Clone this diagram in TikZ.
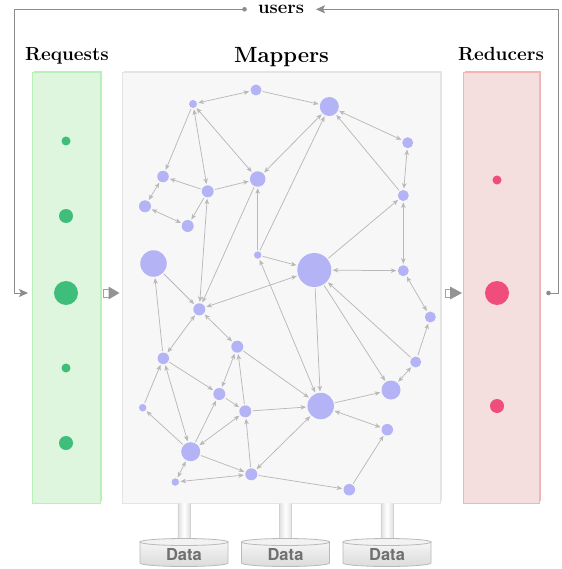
\documentclass[tikz,border=0pt]{standalone}
\usepackage{fontspec}
\newfontfamily\helv{TeX Gyre Heros}
\usetikzlibrary{arrows.meta}
\definecolor{mnode}{RGB}{179,179,245}
\definecolor{edgec}{RGB}{185,185,185}
\definecolor{reqfill}{RGB}{222,245,222}
\definecolor{reqline}{RGB}{184,240,184}
\definecolor{redfill}{RGB}{244,222,222}
\definecolor{redline}{RGB}{245,180,180}
\definecolor{mapfill}{RGB}{247,247,247}
\definecolor{mapline}{RGB}{228,228,228}
\definecolor{greendot}{RGB}{62,190,122}
\definecolor{reddot}{RGB}{240,76,124}
\definecolor{userline}{RGB}{140,140,140}
\definecolor{datatext}{RGB}{112,112,112}
\tikzset{
  mn/.style={circle, fill=mnode, inner sep=0pt, minimum size=#1},
  gdot/.style={circle, fill=greendot, inner sep=0pt, minimum size=#1},
  rdot/.style={circle, fill=reddot, inner sep=0pt, minimum size=#1},
  edgeline/.style={draw=edgec, line width=0.75pt, shorten >=1.2pt, shorten <=1.2pt},
  oneway/.style={edgeline, -{Stealth[length=5.5pt,width=4.5pt,inset=1.5pt]}},
  twoway/.style={edgeline, {Stealth[length=5.5pt,width=4.5pt,inset=1.5pt]}-{Stealth[length=5.5pt,width=4.5pt,inset=1.5pt]}},
  uline/.style={draw=userline, line width=1pt},
  title/.style={font=\fontsize{19}{19}\selectfont\bfseries, anchor=base, inner sep=0pt},
  datalabel/.style={font=\helv\fontsize{16.5}{16.5}\selectfont\bfseries, text=datatext, inner sep=0pt},
}
\begin{document}
\begin{tikzpicture}[x=1pt,y=-1pt]
\fill[white] (0,0) rectangle (561,569);
\useasboundingbox (0,0) rectangle (561,569);

% stage boxes
\fill[reqline] (34,71) rectangle (102,501);
\draw[reqline, fill=reqfill, line width=1pt] (32,73) rectangle (100,503);
\fill[mapline] (124,71) rectangle (442,501);
\draw[mapline, fill=mapfill, line width=1pt] (122,73) rectangle (440,503);
\fill[redline] (465,71) rectangle (541,501);
\draw[redline, fill=redfill, line width=1pt] (463,73) rectangle (539,503);

% titles
\node[title] (treq) at (67,61) {Requests};
\node[title, font=\fontsize{22}{22}\selectfont\bfseries] (tmap) at (281.5,63) {Mappers};
\node[title] (tred) at (501,61) {Reducers};
\node[title, font=\fontsize{18.5}{18.5}\selectfont\bfseries] (users) at (281,13.5) {users};

% users loop
\coordinate (udot) at (244.5,9.3);
\coordinate (rdotc) at (548.5,293);
\fill[userline] (udot) circle (2.3);
\fill[userline] (rdotc) circle (2.3);
\coordinate (ucornerl) at (14.5,9.3);
\coordinate (ucornerb) at (14.5,293);
\coordinate (reqin) at (28,293);
\coordinate (ucornerr) at (558,293);
\coordinate (ucornert) at (558,9.3);
\coordinate (usin) at (316,9.3);
\draw[uline, -{Stealth[length=9pt,width=8pt,inset=2pt]}] (udot) -- (ucornerl) -- (ucornerb) -- (reqin);
\draw[uline, -{Stealth[length=9pt,width=8pt,inset=2pt]}] (rdotc) -- (ucornerr) -- (ucornert) -- (usin);

% stage arrows
\draw[userline!80, fill=white, line width=0.8pt] (103.5,289) rectangle (109,297);
\fill[gray!85] (108.5,286.5) -- (119.5,293) -- (108.5,299.5) -- cycle;
\draw[userline!80, fill=white, line width=0.8pt] (445,289) rectangle (450.5,297);
\fill[gray!85] (450,286.5) -- (462,293) -- (450,299.5) -- cycle;

% request dots
\node[gdot=9pt] (g1) at (66,141) {};
\node[gdot=14pt] (g2) at (66,216) {};
\node[gdot=24pt] (g3) at (66,293) {};
\node[gdot=9pt] (g4) at (66,368) {};
\node[gdot=14pt] (g5) at (66,443) {};

% reducer dots
\node[rdot=9pt] (r1) at (497,180) {};
\node[rdot=24pt] (r2) at (497,293) {};
\node[rdot=14pt] (r3) at (497,406) {};

% mapper nodes
\node[mn=8pt] (n1) at (193,104) {};
\node[mn=11pt] (n2) at (256,90) {};
\node[mn=19pt] (n3) at (329.3,106.5) {};
\node[mn=11pt] (n4) at (407.7,142.7) {};
\node[mn=11.5pt] (n5) at (163,176.5) {};
\node[mn=12pt] (n6) at (207.7,191.3) {};
\node[mn=15.5pt] (n7) at (257.7,179) {};
\node[mn=12pt] (n8) at (145,206.3) {};
\node[mn=12pt] (n9) at (187.7,226) {};
\node[mn=11pt] (n10) at (403.3,195.5) {};
\node[mn=26.5pt] (n11) at (153.5,263.5) {};
\node[mn=7.5pt] (n12) at (257.7,255) {};
\node[mn=34pt] (n13) at (314.3,270) {};
\node[mn=11pt] (n14) at (403.3,270.7) {};
\node[mn=12pt] (n15) at (199.3,309.3) {};
\node[mn=11pt] (n16) at (430.3,317) {};
\node[mn=12pt] (n17) at (237.3,346.7) {};
\node[mn=11.5pt] (n18) at (163.3,358.3) {};
\node[mn=11pt] (n19) at (415.7,362) {};
\node[mn=12pt] (n20) at (219.3,394) {};
\node[mn=19pt] (n21) at (391,390) {};
\node[mn=7.5pt] (n22) at (142.7,407.7) {};
\node[mn=12pt] (n23) at (245.3,411.3) {};
\node[mn=26.5pt] (n24) at (320.7,406) {};
\node[mn=11.5pt] (n25) at (387.3,429.7) {};
\node[mn=19pt] (n26) at (190.7,451.7) {};
\node[mn=7.5pt] (n27) at (175.3,482) {};
\node[mn=12pt] (n28) at (251.3,474.3) {};
\node[mn=11.5pt] (n29) at (349.3,489.7) {};

% mapper edges
\foreach \a/\b in {n1/n5, n6/n5, n6/n7, n6/n9, n2/n3, n10/n3, n12/n3, n12/n7, n13/n10,
  n7/n15, n11/n15, n18/n11, n12/n13, n19/n16, n19/n13, n13/n21, n13/n24, n17/n24,
  n18/n20, n22/n18, n20/n23, n23/n17, n26/n20, n26/n28, n26/n22, n28/n23, n23/n24,
  n24/n21, n28/n29, n29/n25}
  \draw[oneway] (\a) -- (\b);
\foreach \a/\b in {n1/n2, n1/n6, n1/n7, n5/n8, n8/n9, n3/n7, n3/n4, n4/n10, n10/n14,
  n15/n6, n15/n13, n13/n14, n14/n16, n19/n21, n15/n18, n15/n17, n12/n24, n17/n20,
  n18/n26, n26/n23, n26/n27, n27/n28, n28/n24, n24/n25}
  \draw[twoway] (\a) -- (\b);

% data stores
\foreach \cx/\nm in {184/d1, 285.5/d2, 387/d3} {
  \shade[left color=gray!25, right color=gray!25, middle color=white]
    (\cx-6.2,503.5) rectangle (\cx+6.2,541);
  \draw[gray!35, line width=0.5pt] (\cx-6.2,503.5) -- (\cx-6.2,541) (\cx+6.2,503.5) -- (\cx+6.2,541);
  \shade[top color=gray!8, bottom color=gray!28, draw=gray!55, line width=0.8pt]
    (\cx-44,542) -- (\cx-44,563) arc[start angle=180, end angle=360, x radius=44pt, y radius=3.5pt]
    -- (\cx+44,542) -- cycle;
  \draw[gray!55, fill=gray!10, line width=0.8pt] (\cx,542) ellipse [x radius=44pt, y radius=3.5pt];
  \node[datalabel] (\nm) at (\cx,554.5) {Data};
}
\end{tikzpicture}
\end{document}
